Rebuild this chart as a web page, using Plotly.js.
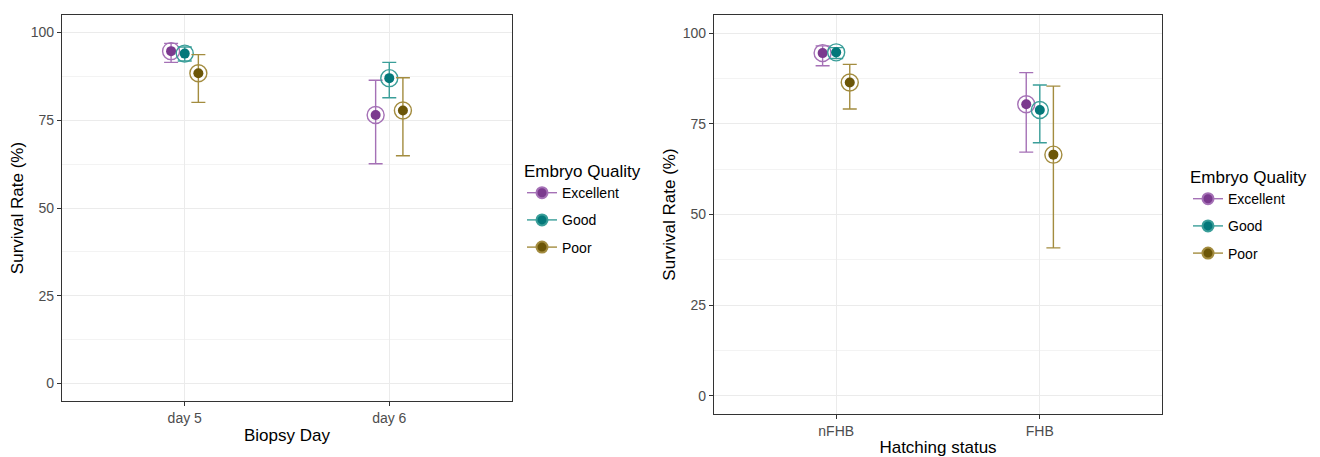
<!DOCTYPE html>
<html>
<head>
<meta charset="utf-8">
<script src="https://cdn.plot.ly/plotly-3.0.1.min.js"></script>
<style>
  html, body { margin: 0; padding: 0; background: #fff; }
  #chart { width: 1320px; height: 457px; }
</style>
</head>
<body>
<div id="chart"></div>
<script>
// ---------------- data ----------------
const qualities = ['Excellent', 'Good', 'Poor'];

const biopsyDays = ['day 5', 'day 6'];
const dayExcellentMean  = [94.7, 76.5];
const dayExcellentLower = [91.5, 62.6];
const dayExcellentUpper = [96.9, 86.4];
const dayGoodMean  = [94.0, 87.0];
const dayGoodLower = [91.9, 81.4];
const dayGoodUpper = [95.9, 91.5];
const dayPoorMean  = [88.4, 77.8];
const dayPoorLower = [80.1, 64.9];
const dayPoorUpper = [93.7, 87.1];

const hatchingStatus = ['nFHB', 'FHB'];
const hatchExcellentMean  = [94.5, 80.4];
const hatchExcellentLower = [91.0, 67.2];
const hatchExcellentUpper = [96.5, 89.1];
const hatchGoodMean  = [94.7, 78.8];
const hatchGoodLower = [93.0, 69.8];
const hatchGoodUpper = [96.0, 85.7];
const hatchPoorMean  = [86.4, 66.5];
const hatchPoorLower = [79.1, 40.8];
const hatchPoorUpper = [91.4, 85.4];

const yTickVals = [0, 25, 50, 75, 100];

// ---------------- styles ----------------
const dotColors   = ['#7B3A8E', '#04787A', '#6C5608'];
const lightColors = ['#A571B6', '#3A9E99', '#A38C3F'];
const FONT = 'Liberation Sans, Arial, sans-serif';
const dodgeWidth = 0.2;

const panels = [
  { cats: biopsyDays, xa: 'x', ya: 'y', legend: 'legend',
    series: [
      [dayExcellentMean, dayExcellentLower, dayExcellentUpper],
      [dayGoodMean, dayGoodLower, dayGoodUpper],
      [dayPoorMean, dayPoorLower, dayPoorUpper]
    ] },
  { cats: hatchingStatus, xa: 'x2', ya: 'y2', legend: 'legend2',
    series: [
      [hatchExcellentMean, hatchExcellentLower, hatchExcellentUpper],
      [hatchGoodMean, hatchGoodLower, hatchGoodUpper],
      [hatchPoorMean, hatchPoorLower, hatchPoorUpper]
    ] }
];

const traces = [];
panels.forEach(p => {
  p.series.forEach((s, k) => {
    const [mean, lower, upper] = s;
    const off = (k - (qualities.length - 1) / 2) * dodgeWidth / qualities.length;
    const xs = p.cats.map((c, i) => i + 1 + off);
    // error bars + outer ring
    traces.push({
      type: 'scatter', mode: 'markers', xaxis: p.xa, yaxis: p.ya,
      x: xs, y: mean, showlegend: false, hoverinfo: 'skip',
      marker: { symbol: 'circle-open', size: 17, color: lightColors[k], line: { width: 1.4, color: lightColors[k] } },
      error_y: {
        type: 'data', symmetric: false,
        array: mean.map((m, i) => upper[i] - m),
        arrayminus: mean.map((m, i) => m - lower[i]),
        color: lightColors[k], thickness: 1.4, width: 7
      }
    });
    // inner filled dot
    traces.push({
      type: 'scatter', mode: 'markers', xaxis: p.xa, yaxis: p.ya,
      x: xs, y: mean, showlegend: false, name: qualities[k],
      marker: { symbol: 'circle', size: 10, color: dotColors[k] }
    });
    // legend entry
    traces.push({
      type: 'scatter', mode: 'lines+markers', xaxis: p.xa, yaxis: p.ya,
      x: [null], y: [null], name: qualities[k], legend: p.legend,
      legendgroup: p.legend + qualities[k], showlegend: true,
      line: { color: lightColors[k], width: 1.4 },
      marker: { symbol: 'circle', size: 11, color: dotColors[k], line: { color: lightColors[k], width: 2 } }
    });
  });
});

function xAxis(cats, domain, title) {
  return {
    domain: domain, range: [0.4, 2.6], tickvals: cats.map((c, i) => i + 1), ticktext: cats,
    showgrid: true, gridcolor: '#EBEBEB', gridwidth: 1, zeroline: false,
    showline: true, mirror: true, linecolor: '#333333', linewidth: 1.3,
    ticks: 'outside', ticklen: 4, tickcolor: '#333333', tickwidth: 1,
    tickfont: { family: FONT, size: 14, color: '#4D4D4D' },
    title: { text: title, font: { family: FONT, size: 17, color: '#000' }, standoff: 4 },
    fixedrange: true
  };
}
function yAxis(domain) {
  return {
    domain: domain, range: [-5, 105], tickvals: yTickVals, ticktext: yTickVals.map(String),
    showgrid: true, gridcolor: '#EBEBEB', gridwidth: 1, zeroline: false,
    minor: { tick0: 0, dtick: 12.5, showgrid: true, gridcolor: '#F3F3F3', gridwidth: 1, ticks: '' },
    showline: true, mirror: true, linecolor: '#333333', linewidth: 1.3,
    ticks: 'outside', ticklen: 4, tickcolor: '#333333', tickwidth: 1,
    tickfont: { family: FONT, size: 14, color: '#4D4D4D' },
    title: { text: 'Survival Rate (%)', font: { family: FONT, size: 17, color: '#000' }, standoff: 2 },
    fixedrange: true
  };
}
function legendCfg(x, y) {
  return {
    x: x, y: y, xanchor: 'left', yanchor: 'top', bgcolor: 'rgba(0,0,0,0)',
    title: { text: 'Embryo Quality', font: { family: FONT, size: 17, color: '#000' } },
    font: { family: FONT, size: 14, color: '#000' },
    tracegroupgap: 6, itemclick: false, itemdoubleclick: false
  };
}

const W = 1320, H = 457;
const layout = {
  width: W, height: H,
  margin: { l: 0, r: 0, t: 0, b: 0 },
  paper_bgcolor: '#fff', plot_bgcolor: '#fff',
  font: { family: FONT },
  showlegend: true,
  xaxis:  xAxis(biopsyDays, [62 / W, 512 / W], 'Biopsy Day'),
  yaxis:  yAxis([1 - 401 / H, 1 - 15 / H]),
  xaxis2: xAxis(hatchingStatus, [714 / W, 1162 / W], 'Hatching status'),
  yaxis2: yAxis([1 - 414 / H, 1 - 15 / H]),
  legend:  legendCfg(522 / W, 1 - 155 / H),
  legend2: legendCfg(1188 / W, 1 - 161 / H)
};
layout.yaxis2.anchor = 'x2';
layout.xaxis2.anchor = 'y2';

Plotly.newPlot('chart', traces, layout, { displayModeBar: false, staticPlot: false });
</script>
</body>
</html>
